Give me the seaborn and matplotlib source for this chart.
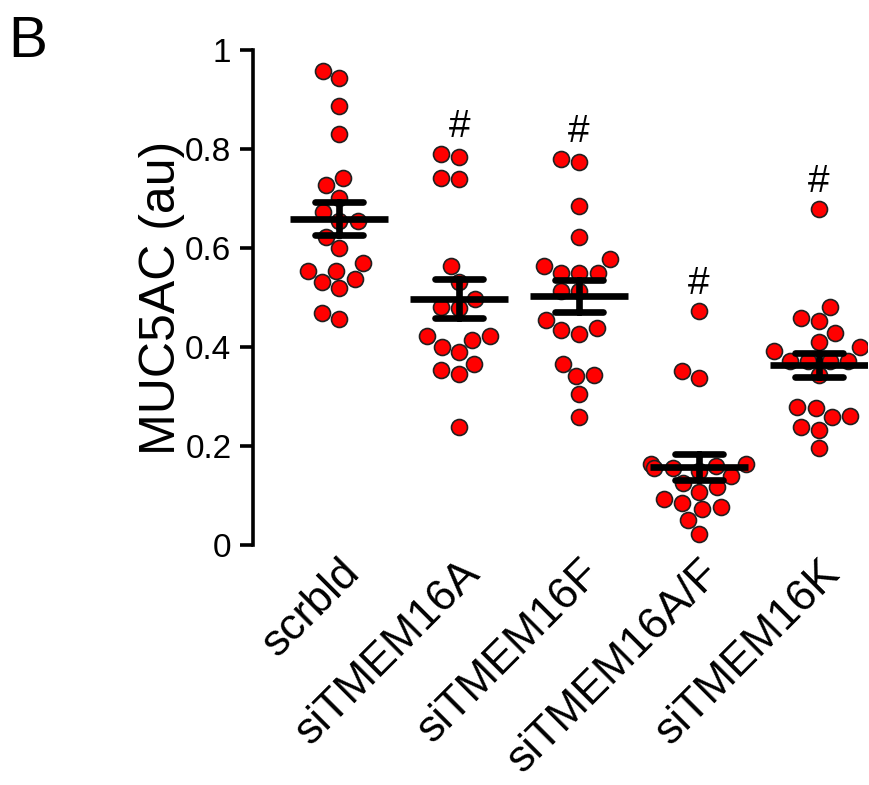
import numpy as np
import pandas as pd
import seaborn as sns
from matplotlib import pyplot as plt
from matplotlib import transforms

groups = ["scrbld", "siTMEM16A", "siTMEM16F", "siTMEM16A/F", "siTMEM16K"]

scrbld = [0.958, 0.943, 0.886, 0.830, 0.741, 0.727, 0.702, 0.672, 0.655, 0.655,
          0.623, 0.599, 0.569, 0.554, 0.554, 0.531, 0.537, 0.519, 0.468, 0.456]
si16a = [0.790, 0.784, 0.741, 0.739, 0.564, 0.532, 0.497, 0.481, 0.479, 0.423,
         0.414, 0.423, 0.389, 0.401, 0.354, 0.345, 0.366, 0.238]
si16f = [0.779, 0.773, 0.684, 0.622, 0.577, 0.564, 0.550, 0.550, 0.550, 0.514,
         0.514, 0.455, 0.438, 0.426, 0.434, 0.366, 0.343, 0.341, 0.306, 0.259]
si16af = [0.473, 0.352, 0.337, 0.163, 0.160, 0.155, 0.150, 0.140, 0.155, 0.163,
          0.125, 0.118, 0.108, 0.092, 0.076, 0.072, 0.084, 0.050, 0.022]
si16k = [0.679, 0.481, 0.453, 0.458, 0.428, 0.410, 0.399, 0.392, 0.372, 0.372,
         0.372, 0.372, 0.343, 0.278, 0.276, 0.261, 0.258, 0.239, 0.232, 0.195]
values = [scrbld, si16a, si16f, si16af, si16k]
signif = ["", "#", "#", "#", "#"]

sns.set_style("ticks")
plt.rcParams["font.family"] = ["Liberation Sans", "DejaVu Sans"]
plt.rcParams.update({"text.color": "black", "axes.labelcolor": "black",
                     "xtick.color": "black", "ytick.color": "black",
                     "axes.edgecolor": "black"})

df = pd.DataFrame({
    "group": np.repeat(groups, [len(v) for v in values]),
    "muc5ac": np.concatenate(values),
})

fig = plt.figure(figsize=(8.69, 7.85), dpi=100)
ax = fig.add_axes([253 / 869, 240 / 785, 614 / 869, 495 / 785])

sns.swarmplot(data=df, x="group", y="muc5ac", order=groups, color="#ff0000",
              size=11.5, edgecolor="#202020", linewidth=1.2, ax=ax, zorder=1,
              warn_thresh=1)
sns.pointplot(data=df, x="group", y="muc5ac", order=groups, errorbar="se",
              capsize=0.4, color="black", linestyle="none", marker="_",
              markersize=70, markeredgewidth=4.8,
              err_kws={"linewidth": 4.8}, ax=ax)

for i, s in enumerate(signif):
    if s:
        ax.text(i, max(values[i]) + 0.035, s, ha="center", va="baseline", fontsize=28)

ax.set_xlim(-0.72, 4.4)
ax.set_ylim(0, 1)
ax.set_yticks([0, 0.2, 0.4, 0.6, 0.8, 1])
ax.set_yticklabels(["0", "0.2", "0.4", "0.6", "0.8", "1"], fontsize=24)
ax.set_xticks(range(len(groups)))
ax.set_xticklabels(groups, rotation=45, ha="right", rotation_mode="anchor", fontsize=32)
shift = transforms.ScaledTranslation(0.03, 0.02, fig.dpi_scale_trans)
for lab in ax.get_xticklabels():
    lab.set_transform(lab.get_transform() + shift)

for side in ["top", "right", "bottom"]:
    ax.spines[side].set_visible(False)
ax.spines["left"].set_linewidth(2.6)
ax.tick_params(axis="y", length=9.5, width=2.6, pad=6)
ax.tick_params(axis="x", length=0, pad=5)

ax.set_xlabel("")
ax.set_ylabel("MUC5AC (au)", fontsize=36)
ax.yaxis.set_label_coords(-0.11, 0.5)

fig.text(0.009, 0.9274, "B", fontsize=42, va="baseline")

fig.savefig("out.png", dpi=100)
